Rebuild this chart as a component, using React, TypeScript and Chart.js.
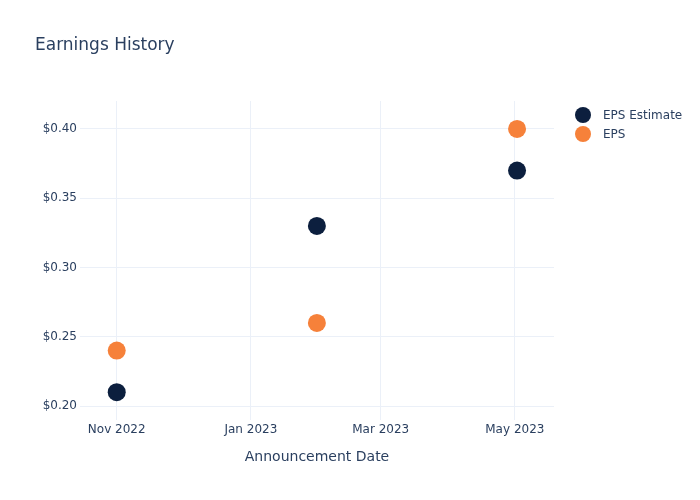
import React, { useEffect, useRef } from "react";
import { Chart, registerables } from "chart.js";

Chart.register(...registerables);

const announcementDates = ["2022-11-01", "2023-01-31", "2023-05-02"];
const epsEstimate = [0.21, 0.33, 0.37];
const epsActual = [0.24, 0.26, 0.4];
const xTickDates = ["2022-11-01", "2023-01-01", "2023-03-01", "2023-05-01"];
const xTickLabels = ["Nov 2022", "Jan 2023", "Mar 2023", "May 2023"];
const yTickValues = [0.2, 0.25, 0.3, 0.35, 0.4];
const seriesNames = ["EPS Estimate", "EPS"];
const seriesColors = ["#0c1f3e", "#f6813a"];

const BASE = Date.UTC(2022, 10, 1);
const toDay = (s: string) => {
  const [y, m, d] = s.split("-").map(Number);
  return (Date.UTC(y, m - 1, d) - BASE) / 86400000;
};

const FONT = '"DejaVu Sans", "Open Sans", sans-serif';
const TEXT = "#2a3f5f";
const GRID = "#ebf0f8";

const overlayPlugin = {
  id: "overlay",
  afterDraw(chart: any) {
    const ctx = chart.ctx;
    const area = chart.chartArea;
    ctx.save();
    ctx.fillStyle = TEXT;
    ctx.font = `17px ${FONT}`;
    ctx.textAlign = "left";
    ctx.textBaseline = "middle";
    ctx.fillText("Earnings History", 35, 46);

    ctx.font = `14px ${FONT}`;
    ctx.textAlign = "center";
    ctx.fillText("Announcement Date", (area.left + area.right) / 2, 457);

    ctx.font = `12px ${FONT}`;
    ctx.textAlign = "left";
    seriesNames.forEach((name, i) => {
      const y = 115 + i * 19;
      ctx.beginPath();
      ctx.arc(583, y, 8, 0, Math.PI * 2);
      ctx.fillStyle = seriesColors[i];
      ctx.fill();
      ctx.fillStyle = TEXT;
      ctx.fillText(name, 603, y + 1);
    });
    ctx.restore();
  },
};

export default function App() {
  const ref = useRef<HTMLCanvasElement | null>(null);
  useEffect(() => {
    document.body.style.margin = "0";
    const mk = (vals: number[]) =>
      vals.map((v, i) => ({ x: toDay(announcementDates[i]), y: v }));
    const chart = new Chart(ref.current!, {
      type: "scatter",
      data: {
        datasets: [
          {
            label: seriesNames[0],
            data: mk(epsEstimate),
            backgroundColor: seriesColors[0],
            borderColor: seriesColors[0],
            pointRadius: 9,
            borderWidth: 0,
          },
          {
            label: seriesNames[1],
            data: mk(epsActual),
            backgroundColor: seriesColors[1],
            borderColor: seriesColors[1],
            pointRadius: 9,
            borderWidth: 0,
          },
        ],
      },
      options: {
        animation: false,
        responsive: false,
        layout: { padding: { left: 1, right: 146, top: 101, bottom: 0 } },
        plugins: {
          legend: { display: false },
          title: { display: false },
          tooltip: { enabled: false },
        },
        scales: {
          x: {
            type: "linear",
            min: -16.7,
            max: 198.8,
            border: { display: false },
            grid: { color: GRID, drawTicks: false, lineWidth: 1 },
            afterBuildTicks: (s: any) => {
              s.ticks = xTickDates.map((d) => ({ value: toDay(d) }));
            },
            afterFit: (s: any) => {
              s.height = 80;
            },
            ticks: {
              color: TEXT,
              font: { family: FONT, size: 12 },
              padding: 3,
              maxRotation: 0,
              autoSkip: false,
              callback: (v: any) => {
                const idx = xTickDates.findIndex((d) => toDay(d) === v);
                return idx >= 0 ? xTickLabels[idx] : "";
              },
            },
          },
          y: {
            type: "linear",
            min: 0.1899,
            max: 0.4202,
            border: { display: false },
            grid: { color: GRID, drawTicks: false, lineWidth: 1 },
            afterBuildTicks: (s: any) => {
              s.ticks = yTickValues.map((v) => ({ value: v }));
            },
            afterFit: (s: any) => {
              s.width = 79;
            },
            ticks: {
              color: TEXT,
              font: { family: FONT, size: 12 },
              padding: 3,
              callback: (v: any) => "$" + Number(v).toFixed(2),
            },
          },
        },
      },
      plugins: [overlayPlugin],
    } as any);
    return () => chart.destroy();
  }, []);
  return (
    <div style={{ width: 700, height: 500 }}>
      <canvas ref={ref} width={700} height={500} />
    </div>
  );
}
